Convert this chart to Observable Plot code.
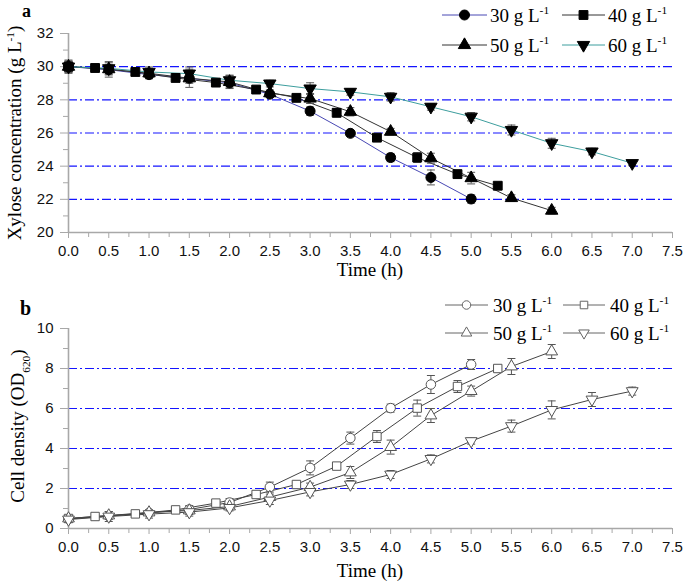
<!DOCTYPE html>
<html><head><meta charset="utf-8">
<script src="https://cdn.jsdelivr.net/npm/d3@7"></script>
<script src="https://cdn.jsdelivr.net/npm/@observablehq/plot@0.6"></script>
<style>
body{margin:0;background:#fff;}
#chart{width:685px;}
#chart svg{display:block;}
</style></head><body><div id="chart"></div>
<script>
// ---------- data ----------
const seriesNames = ["30", "40", "50", "60"];
const tStd = [0, 0.5, 1.0, 1.5, 2.0, 2.5, 3.0, 3.5, 4.0, 4.5, 5.0, 5.5, 6.0, 6.5, 7.0];
const t40 = [0, 0.33, 0.83, 1.33, 1.83, 2.33, 2.83, 3.33, 3.83, 4.33, 4.83, 5.33];

// Panel a: xylose concentration (g/L)
const xyl30 = [30.0, 29.82, 29.52, 29.3, 29.02, 28.34, 27.32, 25.98, 24.52, 23.32, 22.02];
const xyl30Err = [0.4, 0.45, 0.25, 0.3, 0.3, 0.15, 0.25, 0.15, 0.25, 0.45, 0.25];
const xyl40 = [30.0, 29.92, 29.68, 29.32, 29.04, 28.62, 28.12, 27.22, 25.72, 24.52, 23.52, 22.82];
const xyl40Err = [0.3, 0.15, 0.2, 0.15, 0.1, 0.15, 0.2, 0.25, 0.2, 0.3, 0.2, 0.15];
const xyl50 = [30.0, 29.85, 29.6, 29.3, 29.08, 28.4, 28.08, 27.28, 26.08, 24.48, 23.28, 22.08, 21.32];
const xyl50Err = [0.35, 0.3, 0.3, 0.55, 0.4, 0.2, 0.3, 0.25, 0.2, 0.3, 0.35, 0.2, 0.2];
const xyl60 = [30.0, 29.9, 29.68, 29.58, 29.18, 28.98, 28.68, 28.48, 28.18, 27.58, 26.98, 26.18, 25.38, 24.88, 24.18];
const xyl60Err = [0.3, 0.4, 0.3, 0.4, 0.3, 0.2, 0.35, 0.2, 0.25, 0.2, 0.25, 0.3, 0.3, 0.2, 0.15];

// Panel b: cell density (OD620)
const od30 = [0.48, 0.62, 0.78, 0.95, 1.3, 2.07, 3.03, 4.52, 6.02, 7.2, 8.2];
const od30Err = [0.1, 0.1, 0.1, 0.2, 0.2, 0.25, 0.35, 0.3, 0.2, 0.45, 0.25];
const od40 = [0.5, 0.6, 0.73, 0.93, 1.27, 1.7, 2.2, 3.12, 4.6, 6.02, 7.1, 8.0];
const od40Err = [0.1, 0.1, 0.1, 0.1, 0.1, 0.15, 0.1, 0.15, 0.3, 0.4, 0.3, 0.15];
const od50 = [0.5, 0.65, 0.8, 0.9, 1.1, 1.57, 2.07, 2.8, 4.07, 5.65, 6.87, 8.1, 8.85];
const od50Err = [0.1, 0.2, 0.15, 0.2, 0.15, 0.15, 0.2, 0.3, 0.35, 0.35, 0.25, 0.4, 0.35];
const od60 = [0.45, 0.6, 0.72, 0.82, 1.03, 1.4, 1.83, 2.2, 2.7, 3.48, 4.37, 5.12, 5.93, 6.45, 6.87];
const od60Err = [0.15, 0.25, 0.2, 0.2, 0.15, 0.2, 0.2, 0.2, 0.2, 0.2, 0.15, 0.3, 0.45, 0.35, 0.2];

const xTicksMajor = [0, 0.5, 1.0, 1.5, 2.0, 2.5, 3.0, 3.5, 4.0, 4.5, 5.0, 5.5, 6.0, 6.5, 7.0, 7.5];
const xTicksMinor = [0.25, 0.75, 1.25, 1.75, 2.25, 2.75, 3.25, 3.75, 4.25, 4.75, 5.25, 5.75, 6.25, 6.75, 7.25];
const yTicksA = [20, 22, 24, 26, 28, 30, 32];
const yMinorA = [21, 23, 25, 27, 29, 31];
const gridA = [22, 24, 26, 28, 30];
const yTicksB = [0, 2, 4, 6, 8, 10];
const yMinorB = [1, 3, 5, 7, 9];
const gridB = [2, 4, 6, 8];

// ---------- helpers ----------
function rows(s, ts, vs, es) { return vs.map((v, i) => ({s, t: ts[i], v, e: es[i]})); }
const dataA = [
  ...rows("30", tStd, xyl30, xyl30Err), ...rows("40", t40, xyl40, xyl40Err),
  ...rows("50", tStd, xyl50, xyl50Err), ...rows("60", tStd, xyl60, xyl60Err)];
const dataB = [
  ...rows("30", tStd, od30, od30Err), ...rows("40", t40, od40, od40Err),
  ...rows("50", tStd, od50, od50Err), ...rows("60", tStd, od60, od60Err)];

const triDown = {draw(ctx, size) {
  const y = -Math.sqrt(size / (Math.sqrt(3) * 3));
  ctx.moveTo(0, -y * 2); ctx.lineTo(-Math.sqrt(3) * y, y); ctx.lineTo(Math.sqrt(3) * y, y); ctx.closePath();
}};
const cap = {draw(ctx, size) { const w = Math.sqrt(size); ctx.moveTo(-w / 2, 0); ctx.lineTo(w / 2, 0); }};
const symbols = {"30": "circle", "40": "square", "50": "triangle", "60": triDown};
const markerR = {"30": 5, "40": 5, "50": 4.6, "60": 4.6};

const lineColorsA = ["#4848b4", "#333333", "#333333", "#3d9e9e"];
const lineColorsB = ["#444444", "#444444", "#444444", "#444444"];
const gridStyle = {stroke: "#1414ff", strokeDasharray: "9,3,2,3", strokeWidth: 1.2};
const axisGray = "#a8a8a8";

function panel(data, {height, marginTop, marginBottom, yDomain, yTicks, yMinor, grid, lineColors, filled}) {
  const marks = [
    Plot.ruleY(grid, gridStyle),
    Plot.ruleX([0], {stroke: axisGray, strokeWidth: 1.6}),
    Plot.ruleY([yDomain[0]], {stroke: axisGray, strokeWidth: 1.6}),
    Plot.axisX({ticks: xTicksMajor, tickSize: 6, tickPadding: 7, tickFormat: d => d.toFixed(1), stroke: axisGray, fill: "#111", label: null}),
    Plot.axisX({ticks: xTicksMinor, tickSize: 5, tickFormat: () => "", stroke: axisGray, label: null}),
    Plot.axisY({ticks: yTicks, tickSize: 8, tickPadding: 7, tickFormat: d => String(d), stroke: axisGray, fill: "#111", label: null}),
    Plot.axisY({ticks: yMinor, tickSize: 5, tickFormat: () => "", stroke: axisGray, label: null}),
    Plot.line(data, {x: "t", y: "v", z: "s", stroke: "s", strokeWidth: 1}),
    Plot.ruleX(data, {x: "t", y1: d => d.v - d.e, y2: d => d.v + d.e, stroke: "#555", strokeWidth: 1}),
    Plot.dot(data, {x: "t", y: d => d.v + d.e, symbol: cap, r: 4.5, fill: "none", stroke: "#555", strokeWidth: 1}),
    Plot.dot(data, {x: "t", y: d => d.v - d.e, symbol: cap, r: 4.5, fill: "none", stroke: "#555", strokeWidth: 1})
  ];
  for (const s of seriesNames) {
    marks.push(Plot.dot(data.filter(d => d.s === s), {
      x: "t", y: "v", symbol: symbols[s], r: markerR[s] * (filled ? 1 : 0.95),
      fill: filled ? "#000" : "#fff", stroke: filled ? "#000" : "#555", strokeWidth: 1
    }));
  }
  return Plot.plot({
    width: 685, height, marginTop, marginBottom, marginLeft: 68, marginRight: 13,
    style: {fontFamily: "'Liberation Sans', Arial, sans-serif", fontSize: "15px", color: "#000", background: "#fff", overflow: "visible"},
    x: {domain: [0, 7.5], label: null},
    y: {domain: yDomain, label: null},
    color: {domain: seriesNames, range: lineColors},
    marks
  });
}

const serif = "'Liberation Serif', 'Times New Roman', serif";

function addText(g, x, y, parts, {size = 19, rotate = 0, anchor = "middle", weight = "normal"} = {}) {
  const t = g.append("text")
    .attr("transform", `translate(${x},${y}) rotate(${rotate})`)
    .attr("text-anchor", anchor).attr("font-family", serif)
    .attr("font-size", size).attr("font-weight", weight).attr("fill", "#000");
  for (const p of parts) {
    const ts = t.append("tspan").text(p.text);
    if (p.sup) ts.attr("font-size", size * 0.6).attr("dy", -size * 0.38);
    else if (p.sub) ts.attr("font-size", size * 0.6).attr("dy", size * 0.3);
    if (p.reset) ts.attr("dy", p.reset);
  }
  return t;
}

function legend(svg, {rowsY, cols, filled, lineColors}) {
  const g = d3.select(svg).append("g");
  seriesNames.forEach((s, i) => {
    const y = rowsY[Math.floor(i / 2)];
    const c = cols[i % 2];
    g.append("line").attr("x1", c.x1).attr("x2", c.x2).attr("y1", y).attr("y2", y)
      .attr("stroke", filled ? lineColors[i] : "#666").attr("stroke-width", 1);
    const sym = typeof symbols[s] === "string" ? {circle: d3.symbolCircle, square: d3.symbolSquare, triangle: d3.symbolTriangle}[symbols[s]] : symbols[s];
    const r = markerR[s] * (filled ? 1 : 0.85);
    g.append("path").attr("d", d3.symbol(sym, Math.PI * r * r)())
      .attr("transform", `translate(${(c.x1 + c.x2) / 2},${y})`)
      .attr("fill", filled ? "#000" : "#fff").attr("stroke", filled ? "#000" : "#666");
    addText(g, c.tx, y + 6.5, [{text: `${s} g L`}, {text: "-1", sup: true}], {anchor: "start", size: 19});
  });
}

// ---------- panel a ----------
const svgA = panel(dataA, {height: 285, marginTop: 33, marginBottom: 53, yDomain: [20, 32],
  yTicks: yTicksA, yMinor: yMinorA, grid: gridA, lineColors: lineColorsA, filled: true});
{
  const g = d3.select(svgA).append("g");
  addText(g, 370, 276, [{text: "Time (h)"}]);
  addText(g, 21, 133, [{text: "Xylose concentration (g L"}, {text: "-1", sup: true}, {text: ")", reset: 19 * 0.38}], {rotate: -90});
  addText(g, 22, 17, [{text: "a"}], {anchor: "start", weight: "bold", size: 18});
}
legend(svgA, {rowsY: [15, 45], cols: [{x1: 442, x2: 487, tx: 490}, {x1: 562, x2: 605, tx: 608}], filled: true, lineColors: lineColorsA});

// ---------- panel b ----------
const svgB = panel(dataB, {height: 297, marginTop: 43, marginBottom: 54, yDomain: [0, 10],
  yTicks: yTicksB, yMinor: yMinorB, grid: gridB, lineColors: lineColorsB, filled: false});
{
  const g = d3.select(svgB).append("g");
  addText(g, 370, 292, [{text: "Time (h)"}]);
  addText(g, 24, 141, [{text: "Cell density (OD"}, {text: "620", sub: true}, {text: ")", reset: -19 * 0.3}], {rotate: -90});
  addText(g, 20, 30, [{text: "b"}], {anchor: "start", weight: "bold", size: 20});
}
legend(svgB, {rowsY: [20, 48], cols: [{x1: 445, x2: 488, tx: 493}, {x1: 563, x2: 605, tx: 610}], filled: false, lineColors: lineColorsB});

document.getElementById("chart").append(svgA, svgB);
</script></body></html>
